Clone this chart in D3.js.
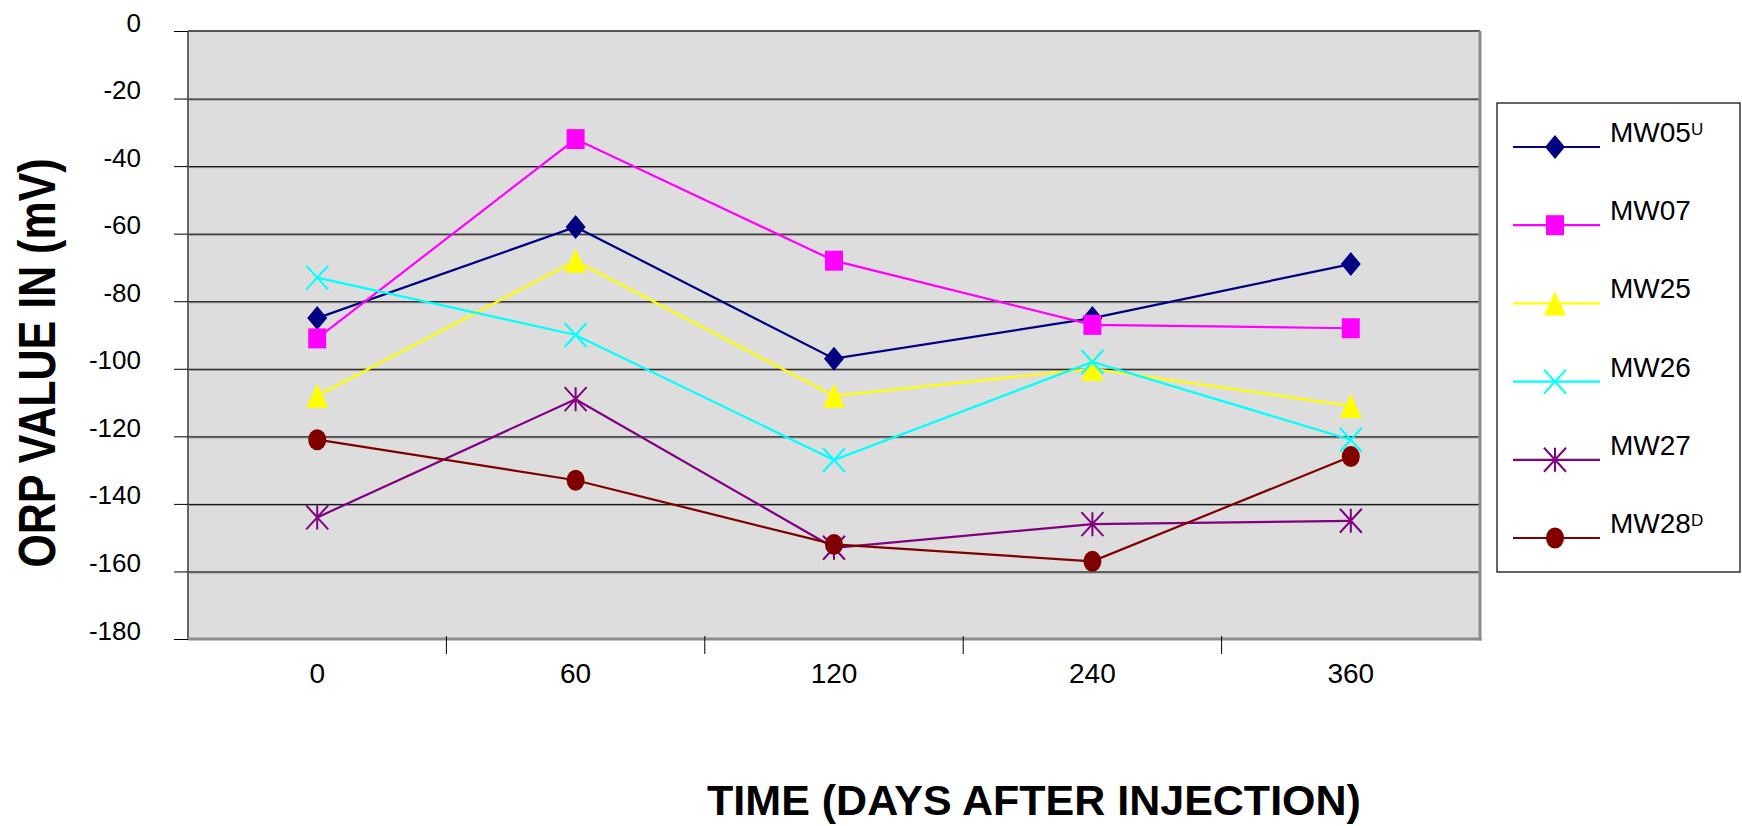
<!DOCTYPE html>
<html>
<head>
	<meta charset="utf-8">
	<title>ORP values</title>
	<script src="https://cdn.jsdelivr.net/npm/d3@7/dist/d3.min.js"></script>
</head>
<style type="text/css">
	body { margin: 0; background-color: #fff; }
	text { font-family: Arial, "Liberation Sans", sans-serif; fill: #000; }
</style>
<body>
</body>
</html>
<script type="text/javascript">
	var width = 1742;
	var height = 826;

	// days after injection
	var days = ["0", "60", "120", "240", "360"];
	var yTicks = [0, -20, -40, -60, -80, -100, -120, -140, -160, -180];

	// ORP readings (mV), one array per well
	var mw05 = [-85, -58, -97, -85, -69];
	var mw07 = [-91, -32, -68, -87, -88];
	var mw25 = [-108, -68, -108, -100, -111];
	var mw26 = [-73, -90, -127, -98, -121];
	var mw27 = [-144, -109, -153, -146, -145];
	var mw28 = [-121, -133, -152, -157, -126];

	var series = [
		{name: "MW05", sup: "U", values: mw05, color: "#000080", marker: "diamond"},
		{name: "MW07", sup: "", values: mw07, color: "#FF00FF", marker: "square"},
		{name: "MW25", sup: "", values: mw25, color: "#FFFF00", marker: "triangle"},
		{name: "MW26", sup: "", values: mw26, color: "#00FFFF", marker: "x"},
		{name: "MW27", sup: "", values: mw27, color: "#800080", marker: "star"},
		{name: "MW28", sup: "D", values: mw28, color: "#800000", marker: "circle"}
	];

	var plot = {left: 188, right: 1480, top: 31, bottom: 639};

	var svg = d3.select("body").append("svg").attr("width", width).attr("height", height);

	var x = d3.scaleBand().domain(days).range([plot.left, plot.right]).padding(0);
	var y = d3.scaleLinear().domain([-180, 0]).range([plot.bottom, plot.top]);

	// plot background
	svg.append("rect")
		.attr("x", plot.left).attr("y", plot.top)
		.attr("width", plot.right - plot.left).attr("height", plot.bottom - plot.top)
		.attr("fill", "#DDDDDD");

	// gridlines (black with a grey shadow under them)
	var grid = svg.append("g");
	var inner = yTicks.filter(function(d){ return d < 0 && d > -180; });
	grid.selectAll("line.shadow").data(inner).enter().append("line")
		.attr("class", "shadow")
		.attr("x1", plot.left).attr("x2", plot.right)
		.attr("y1", function(d){ return y(d) + 1.5; }).attr("y2", function(d){ return y(d) + 1.5; })
		.attr("stroke", "#8a8a8a").attr("stroke-width", 1);
	grid.selectAll("line.main").data(inner).enter().append("line")
		.attr("class", "main")
		.attr("x1", plot.left).attr("x2", plot.right)
		.attr("y1", function(d){ return y(d) + 0.5; }).attr("y2", function(d){ return y(d) + 0.5; })
		.attr("stroke", "#000").attr("stroke-width", 1);

	// plot frame
	svg.append("line").attr("x1", plot.left).attr("x2", plot.right).attr("y1", plot.top).attr("y2", plot.top)
		.attr("stroke", "#555").attr("stroke-width", 2);
	svg.append("line").attr("x1", plot.left).attr("x2", plot.left).attr("y1", plot.top).attr("y2", plot.bottom)
		.attr("stroke", "#666").attr("stroke-width", 2);
	svg.append("line").attr("x1", plot.right).attr("x2", plot.right).attr("y1", plot.top).attr("y2", plot.bottom + 1.5)
		.attr("stroke", "#8c8c8c").attr("stroke-width", 3);
	svg.append("line").attr("x1", plot.left).attr("x2", plot.right + 1.5).attr("y1", plot.bottom).attr("y2", plot.bottom)
		.attr("stroke", "#8c8c8c").attr("stroke-width", 3);

	// y axis
	var yAxis = svg.append("g")
		.attr("transform", "translate(" + plot.left + ",0)")
		.call(d3.axisLeft(y).tickValues(yTicks).tickSize(14).tickPadding(33)
			.tickFormat(function(d){ return String(d); }));
	yAxis.select(".domain").remove();
	yAxis.selectAll(".tick line").attr("stroke", "#000");
	yAxis.selectAll(".tick text")
		.attr("dy", 0)
		.style("font-size", "26px")
		.style("font-family", "Arial, 'Liberation Sans', sans-serif");

	// x axis: labels centred in each band, ticks on band boundaries
	var xAxis = svg.append("g")
		.attr("transform", "translate(0," + plot.bottom + ")")
		.call(d3.axisBottom(x).tickSize(0).tickPadding(0));
	xAxis.select(".domain").remove();
	xAxis.selectAll(".tick text")
		.attr("y", 44).attr("dy", 0)
		.style("font-size", "28px")
		.style("font-family", "Arial, 'Liberation Sans', sans-serif");
	svg.selectAll("line.xtick").data(days.slice(1)).enter().append("line")
		.attr("class", "xtick")
		.attr("x1", function(d){ return x(d); }).attr("x2", function(d){ return x(d); })
		.attr("y1", plot.bottom - 3).attr("y2", plot.bottom + 15)
		.attr("stroke", "#000").attr("stroke-width", 1);

	// marker drawing
	function drawMarker(g, type, color) {
		if (type == "diamond") {
			g.append("path").attr("d", "M0,-12L10,0L0,12L-10,0Z").attr("fill", color);
		} else if (type == "square") {
			g.append("rect").attr("x", -9).attr("y", -10).attr("width", 18).attr("height", 20).attr("fill", color);
		} else if (type == "triangle") {
			g.append("path").attr("d", "M0,-12L11,12L-11,12Z").attr("fill", color);
		} else if (type == "x") {
			g.append("path").attr("d", "M-11,-12L11,12M11,-12L-11,12").attr("stroke", color).attr("stroke-width", 2).attr("fill", "none");
		} else if (type == "star") {
			g.append("path").attr("d", "M-11,-12L11,12M11,-12L-11,12M0,-12L0,12").attr("stroke", color).attr("stroke-width", 2).attr("fill", "none");
		} else if (type == "circle") {
			g.append("ellipse").attr("rx", 9).attr("ry", 10.5).attr("fill", color);
		}
	}

	var line = d3.line()
		.x(function(d, i){ return x(days[i]) + x.bandwidth() / 2; })
		.y(function(d){ return y(d); });

	var groups = svg.selectAll("g.series").data(series).enter().append("g").attr("class", "series");
	groups.append("path")
		.attr("d", function(s){ return line(s.values); })
		.attr("fill", "none")
		.attr("stroke", function(s){ return s.color; })
		.attr("stroke-width", 2.2);
	groups.each(function(s) {
		var g = d3.select(this);
		s.values.forEach(function(v, i) {
			var m = g.append("g").attr("transform", "translate(" + (x(days[i]) + x.bandwidth() / 2) + "," + y(v) + ")");
			drawMarker(m, s.marker, s.color);
		});
	});

	// legend
	var legend = svg.append("g");
	legend.append("rect")
		.attr("x", 1497).attr("y", 103).attr("width", 243).attr("height", 469)
		.attr("fill", "#fff").attr("stroke", "#000").attr("stroke-width", 1.2);
	var items = legend.selectAll("g.item").data(series).enter().append("g")
		.attr("class", "item")
		.attr("transform", function(d, i){ return "translate(0," + (147 + i * 78.2) + ")"; });
	items.append("line")
		.attr("x1", 1513).attr("x2", 1600).attr("y1", 0).attr("y2", 0)
		.attr("stroke", function(d){ return d.color; }).attr("stroke-width", 2.2);
	items.each(function(s) {
		var m = d3.select(this).append("g").attr("transform", "translate(1555,0)");
		drawMarker(m, s.marker, s.color);
	});
	var lt = items.append("text")
		.attr("x", 1610).attr("y", -5)
		.style("font-size", "28px");
	lt.append("tspan").text(function(d){ return d.name; });
	lt.append("tspan").attr("dy", -7).style("font-size", "17px").text(function(d){ return d.sup; });

	// axis titles
	svg.append("text")
		.attr("transform", "translate(55,363) rotate(-90) scale(1,1.2)")
		.attr("text-anchor", "middle")
		.style("font-size", "43px").style("font-weight", "bold")
		.text("ORP VALUE IN (mV)");
	svg.append("text")
		.attr("x", 1034).attr("y", 815)
		.attr("text-anchor", "middle")
		.style("font-size", "43px").style("font-weight", "bold")
		.text("TIME (DAYS AFTER INJECTION)");
</script>
